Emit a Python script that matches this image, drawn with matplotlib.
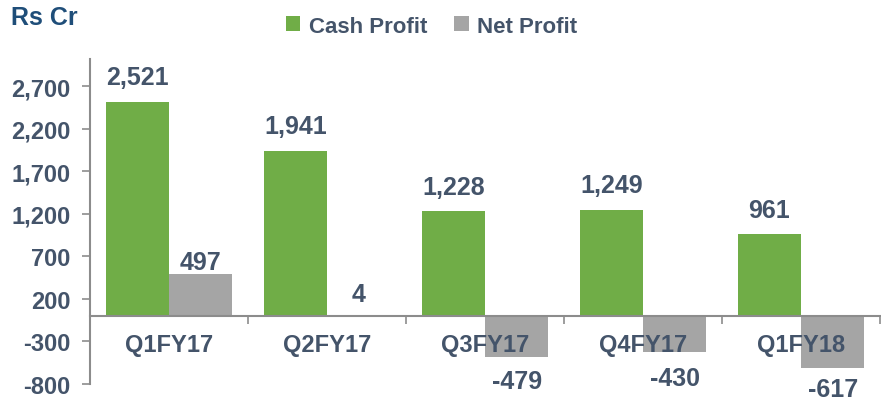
import matplotlib.pyplot as plt
import numpy as np

plt.rcParams['font.family'] = ['Liberation Sans', 'DejaVu Sans']
plt.rcParams['font.weight'] = 'bold'

quarters = ['Q1FY17', 'Q2FY17', 'Q3FY17', 'Q4FY17', 'Q1FY18']
cash_profit = [2521, 1941, 1228, 1249, 961]
net_profit = [497, 4, -479, -430, -617]
yticks = [-800, -300, 200, 700, 1200, 1700, 2200, 2700]

# label offsets (points) for the net profit labels
net_offsets = [0, 6.5, -9, -9.5, -6]

green = '#70AD47'
grey = '#A5A5A5'
txt = '#44546A'
axis_col = '#8C8C8C'

fig = plt.figure(figsize=(8.81, 4.06), dpi=100)
ax = fig.add_axes([0.102, 0.052, 0.897, 0.80])

x = np.arange(len(quarters))
w = 0.4
b1 = ax.bar(x - w / 2, cash_profit, w, color=green, label='Cash Profit')
b2 = ax.bar(x + w / 2, net_profit, w, color=grey, label='Net Profit')

for xi, v in zip(x, cash_profit):
    ax.annotate(f'{v:,}', (xi - w / 2, v), xytext=(0, 9), textcoords='offset points',
                ha='center', va='bottom', fontsize=18, color=txt, fontweight='bold')
for xi, v, off in zip(x, net_profit, net_offsets):
    ax.annotate(f'{v:,}', (xi + w / 2, v), xytext=(0, off), textcoords='offset points',
                ha='center', va='bottom' if v >= 0 else 'top',
                fontsize=18, color=txt, fontweight='bold')

ax.set_xlim(-0.5, len(quarters) - 0.5)
ax.set_ylim(-800, 3020)
ax.set_yticks(yticks)
ax.set_yticklabels([f'{t:,}' for t in yticks])
ax.tick_params(axis='y', colors=axis_col, labelcolor=txt, labelsize=17, length=6, width=1.2, pad=8)

# category axis at zero, ticks between groups
ax.spines['bottom'].set_position(('data', 0))
ax.spines['bottom'].set_color(axis_col)
ax.spines['bottom'].set_linewidth(1.5)
ax.spines['left'].set_color(axis_col)
ax.spines['left'].set_linewidth(1.5)
ax.spines['top'].set_visible(False)
ax.spines['right'].set_visible(False)
ax.set_xticks(np.arange(len(quarters) + 1) - 0.5)
ax.set_xticklabels([])
ax.tick_params(axis='x', colors=axis_col, length=6, width=1.2)
for xi, q in zip(x, quarters):
    ax.annotate(q, (xi, 0), xytext=(0, -12), textcoords='offset points',
                ha='center', va='top', fontsize=17, color=txt, fontweight='bold')

fig.text(0.012, 0.955, 'Rs Cr', fontsize=18, color='#1F4E79', fontweight='bold', va='center')
fig.legend(handles=[b1, b2], loc='center', bbox_to_anchor=(0.49, 0.933), ncol=2,
           frameon=False, fontsize=16, labelcolor=txt, handlelength=0.65, handleheight=0.65,
           handletextpad=0.4, columnspacing=1.2)

plt.savefig('out.png')
